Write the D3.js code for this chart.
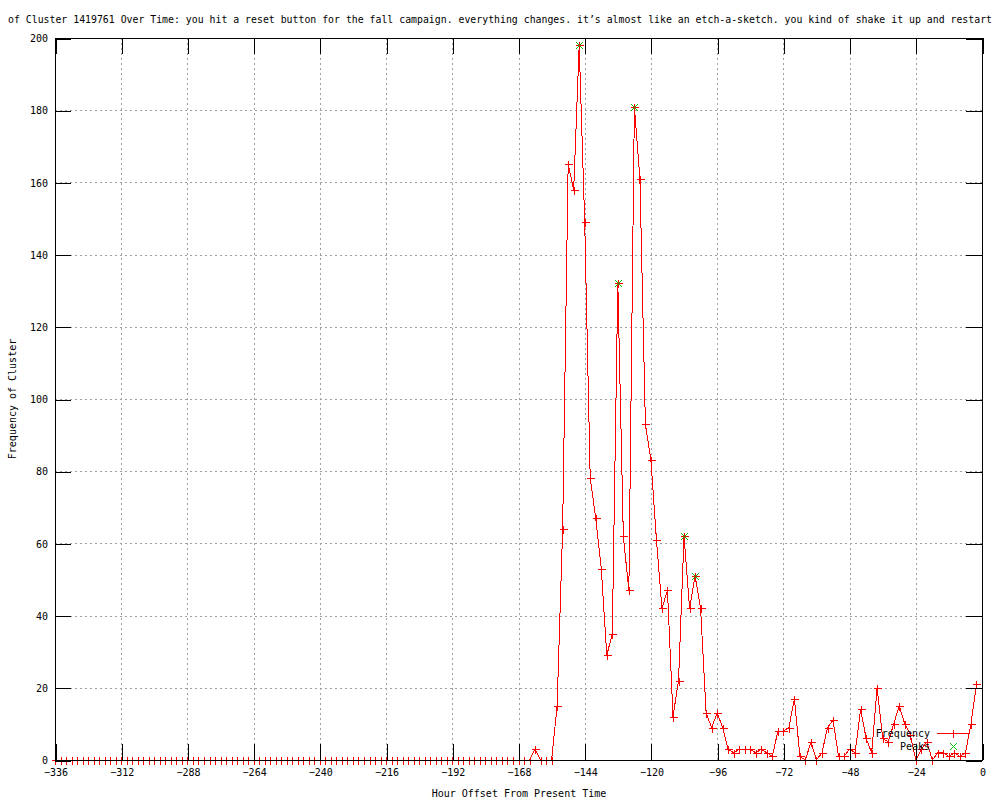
<!DOCTYPE html>
<html><head><meta charset="utf-8">
<script src="https://cdn.jsdelivr.net/npm/d3@7"></script>
<style>
body{margin:0;background:#fff}
svg{display:block}
text{font-family:"DejaVu Sans Mono","Liberation Mono",monospace;font-size:10px;fill:#000}
</style>
</head><body>
<svg id="chart" width="1000" height="800"></svg>
<script>
// ---------- data ----------
const hours = [
-336,-334,-332,-330,-328,-326,-324,-322,-320,-318,-316,-314,-312,-310,-308,-306,-304,-302,-300,-298,
-296,-294,-292,-290,-288,-286,-284,-282,-280,-278,-276,-274,-272,-270,-268,-266,-264,-262,-260,-258,
-256,-254,-252,-250,-248,-246,-244,-242,-240,-238,-236,-234,-232,-230,-228,-226,-224,-222,-220,-218,
-216,-214,-212,-210,-208,-206,-204,-202,-200,-198,-196,-194,-192,-190,-188,-186,-184,-182,-180,-178,
-176,-174,-172,-170,-168,-166,-164,-162,-160,-158,-156,-154,-152,-150,-148,-146,-144,-142,-140,-138,
-136,-134,-132,-130,-128,-126,-124,-122,-120,-118,-116,-114,-112,-110,-108,-106,-104,-102,-100,-98,
-96,-94,-92,-90,-88,-86,-84,-82,-80,-78,-76,-74,-72,-70,-68,-66,-64,-62,-60,-58,
-56,-54,-52,-50,-48,-46,-44,-42,-40,-38,-36,-34,-32,-30,-28,-26,-24,-22,-20,-18,
-16,-14,-12,-10,-8,-6,-4,-2
];
const frequency = [
0,0,0,0,0,0,0,0,0,0,0,0,0,0,0,0,0,0,0,0,
0,0,0,0,0,0,0,0,0,0,0,0,0,0,0,0,0,0,0,0,
0,0,0,0,0,0,0,0,0,0,0,0,0,0,0,0,0,0,0,0,
0,0,0,0,0,0,0,0,0,0,0,0,0,0,0,0,0,0,0,0,
0,0,0,0,0,0,0,3,0,0,0,15,64,165,158,198,149,78,67,53,
29,35,132,62,47,181,161,93,83,61,42,47,12,22,62,42,51,42,13,9,
13,9,3,2,3,3,3,2,3,2,1,8,8,9,17,1,0,5,0,2,
9,11,1,1,3,2,14,6,2,20,6,5,10,15,10,7,0,3,5,0,
2,2,1,2,1,2,10,21
];
const peakHours = [-146,-132,-126,-108,-104];
const peakValues = [198,132,181,62,51];
const xTickValues = [-336,-312,-288,-264,-240,-216,-192,-168,-144,-120,-96,-72,-48,-24,0];
const yTickValues = [0,20,40,60,80,100,120,140,160,180,200];
const titleText = "of Cluster 1419761 Over Time: you hit a reset button for the fall campaign. everything changes. it\u2019s almost like an etch-a-sketch. you kind of shake it up and restart";
const xLabel = "Hour Offset From Present Time";
const yLabel = "Frequency of Cluster";
const legendLabels = ["Frequency","Peaks"];

// ---------- layout ----------
const L = 55, R = 982, T = 38, B = 760, TICK = 16;
const RED = "#ff0000", GREEN = "#00c000", GRID = "#a0a0a0";

const svg = d3.select("#chart");
const x = d3.scaleLinear().domain([-336, 0]).range([L, R]);
const y = d3.scaleLinear().domain([0, 200]).range([B, T]);

const series = hours.map((h, i) => ({h, v: frequency[i]}));
const peaks = peakHours.map((h, i) => ({h, v: peakValues[i]}));

// grid
const grid = svg.append("g").attr("stroke", GRID).attr("stroke-width", 1)
  .attr("stroke-dasharray", "2,3").attr("shape-rendering", "crispEdges");
grid.selectAll(".gx").data(xTickValues.slice(1, -1)).join("line")
  .attr("x1", d => Math.round(x(d)) + 0.5).attr("x2", d => Math.round(x(d)) + 0.5)
  .attr("y1", T).attr("y2", B);
grid.selectAll(".gy").data(yTickValues.slice(1, -1)).join("line")
  .attr("y1", d => Math.round(y(d)) + 0.5).attr("y2", d => Math.round(y(d)) + 0.5)
  .attr("x1", L).attr("x2", R);

// data line
const line = d3.line().x(d => x(d.h)).y(d => y(d.v));
svg.append("path").datum(series)
  .attr("d", line).attr("fill", "none").attr("stroke", RED).attr("stroke-width", 1)
  .attr("shape-rendering", "crispEdges");

// plus markers
const plus = "M-4,0H4M0,-4V4";
const cross = "M-3.5,-3.5L3.5,3.5M-3.5,3.5L3.5,-3.5";
svg.append("g").selectAll("path").data(series).join("path")
  .attr("transform", d => `translate(${Math.round(x(d.h)) + 0.5},${Math.round(y(d.v)) + 0.5})`)
  .attr("d", plus).attr("stroke", RED).attr("stroke-width", 1).attr("fill", "none")
  .attr("shape-rendering", "crispEdges");

// peaks
svg.append("g").selectAll("path").data(peaks).join("path")
  .attr("transform", d => `translate(${Math.round(x(d.h)) + 0.5},${Math.round(y(d.v)) + 0.5})`)
  .attr("d", cross).attr("stroke", GREEN).attr("stroke-width", 1).attr("fill", "none");

// axes (ticks on all sides, inward)
const axB = d3.axisBottom(x).tickValues(xTickValues).tickSizeInner(-TICK).tickSizeOuter(0).tickPadding(9).tickFormat(d3.format("d"));
const axT = d3.axisTop(x).tickValues(xTickValues).tickSizeInner(-TICK).tickSizeOuter(0).tickFormat("");
const axL = d3.axisLeft(y).tickValues(yTickValues).tickSizeInner(-TICK).tickSizeOuter(0).tickPadding(7).tickFormat(d3.format("d"));
const axR = d3.axisRight(y).tickValues(yTickValues).tickSizeInner(-TICK).tickSizeOuter(0).tickFormat("");

function styleAxis(g) {
  g.select(".domain").remove();
  g.selectAll(".tick line").attr("stroke", "#000").attr("shape-rendering", "crispEdges");
  g.selectAll(".tick text").attr("font-family", null).attr("font-size", null).attr("fill", "#000");
  g.attr("font-family", null).attr("font-size", null);
}
svg.append("g").attr("transform", `translate(0.5,${B})`).call(axB).call(styleAxis);
svg.append("g").attr("transform", `translate(0.5,${T})`).call(axT).call(styleAxis);
svg.append("g").attr("transform", `translate(${L},0.5)`).call(axL).call(styleAxis);
svg.append("g").attr("transform", `translate(${R},0.5)`).call(axR).call(styleAxis);

// border
svg.append("rect").attr("x", L + 0.5).attr("y", T + 0.5).attr("width", R - L).attr("height", B - T)
  .attr("fill", "none").attr("stroke", "#000").attr("stroke-width", 1).attr("shape-rendering", "crispEdges");

// title and labels
svg.append("text").attr("x", 500).attr("y", 23).attr("text-anchor", "middle")
  .style("font-size", "9.8px")
  .attr("textLength", 984).attr("lengthAdjust", "spacingAndGlyphs").text(titleText);
svg.append("text").attr("x", 519).attr("y", 797).attr("text-anchor", "middle").text(xLabel);
svg.append("text").attr("transform", "translate(16,399) rotate(-90)").attr("text-anchor", "middle").text(yLabel);

// legend
const lg = svg.append("g");
lg.append("text").attr("x", 930).attr("y", 737).attr("text-anchor", "end").text(legendLabels[0]);
lg.append("line").attr("x1", 937).attr("x2", 969).attr("y1", 733.5).attr("y2", 733.5)
  .attr("stroke", RED).attr("shape-rendering", "crispEdges");
lg.append("path").attr("transform", "translate(953.5,733.5)").attr("d", plus)
  .attr("stroke", RED).attr("fill", "none").attr("shape-rendering", "crispEdges");
lg.append("text").attr("x", 930).attr("y", 750).attr("text-anchor", "end").text(legendLabels[1]);
lg.append("path").attr("transform", "translate(953.5,746.5)").attr("d", cross)
  .attr("stroke", GREEN).attr("fill", "none");
</script>
</body></html>
